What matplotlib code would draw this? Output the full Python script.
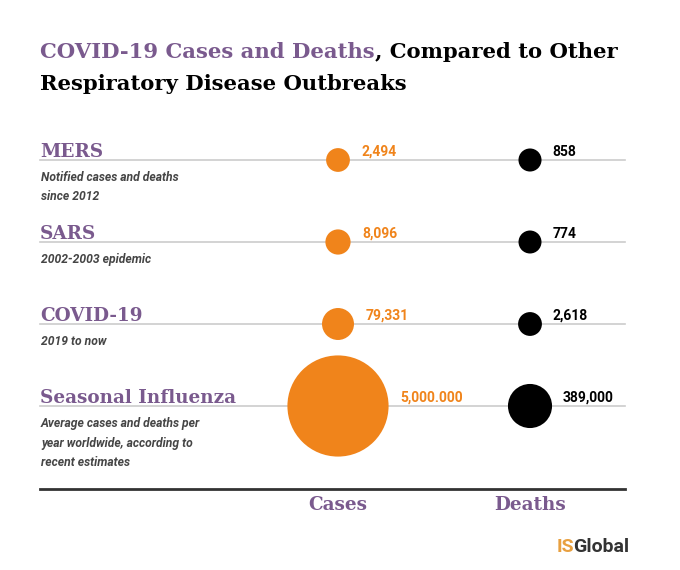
import numpy as np
import matplotlib
matplotlib.use("Agg")
from matplotlib import pyplot as plt
from matplotlib.patches import Circle

# data
diseases = ["MERS", "SARS", "COVID-19", "Seasonal Influenza"]
notes = [
    "Notified cases and deaths\nsince 2012",
    "2002-2003 epidemic",
    "2019 to now",
    "Average cases and deaths per\nyear worldwide, according to\nrecent estimates",
]
cases = [2494, 8096, 79331, 5000000]
deaths = [858, 774, 2618, 389000]
case_labels = ["2,494", "8,096", "79,331", "5,000.000"]
death_labels = ["858", "774", "2,618", "389,000"]
columns = ["Cases", "Deaths"]

PURPLE = "#7a5a8e"
ORANGE = "#f0841b"
SERIF = ["DejaVu Serif"]
SANS = ["Roboto", "DejaVu Sans"]

W, H = 680, 570
fig = plt.figure(figsize=(W / 100, H / 100), dpi=100)
ax = fig.add_axes([0, 0, 1, 1])
ax.set_xlim(0, W)
ax.set_ylim(H, 0)
ax.set_aspect("equal")
ax.axis("off")


def radius(v):
    # bubble radius in pixels, grows with sqrt of the value
    return 11 + 0.0177 * np.sqrt(v)


def right_edge(t):
    fig.canvas.draw()
    bb = t.get_window_extent()
    return ax.transData.inverted().transform((bb.x1, 0))[0]


# title
TS = 15.2
t1 = ax.text(40, 58, "COVID-19 Cases and Deaths", color=PURPLE, family=SERIF,
             fontsize=TS, fontweight="bold", va="baseline")
ax.text(right_edge(t1), 58, ", Compared to Other", color="black", family=SERIF,
        fontsize=TS, fontweight="bold", va="baseline")
ax.text(40, 90, "Respiratory Disease Outbreaks", color="black", family=SERIF,
        fontsize=TS, fontweight="bold", va="baseline")

x_cases, x_deaths = 338, 530
row_y = [160 + 82 * i for i in range(len(diseases))]

for i, name in enumerate(diseases):
    y = row_y[i]
    ax.plot([40, 625], [y, y], color="#cccccc", lw=1.2, zorder=1)
    ax.text(40, y - 3, name, color=PURPLE, family=SERIF, fontsize=13.2,
            fontweight="bold", va="baseline")
    ax.text(41, y + 11, notes[i], color="#454545", family=SANS, fontsize=8.7,
            fontstyle="italic", fontweight="bold", va="top", linespacing=1.65)

    rc = radius(cases[i])
    ax.add_patch(Circle((x_cases, y), rc, color=ORANGE, lw=0, zorder=2))
    ax.text(x_cases + rc + 12, y - 8, case_labels[i], color=ORANGE,
            family=SANS, fontsize=10, fontweight="bold", va="center")

    rd = radius(deaths[i])
    ax.add_patch(Circle((x_deaths, y), rd, color="black", lw=0, zorder=2))
    ax.text(x_deaths + rd + 11, y - 8, death_labels[i], color="black",
            family=SANS, fontsize=10, fontweight="bold", va="center")

# bottom axis line and column labels
ax.plot([40, 625], [489, 489], color="#333333", lw=2, zorder=1)
for x, lab in zip([x_cases, x_deaths], columns):
    ax.text(x, 510, lab, color=PURPLE, family=SERIF, fontsize=13.2,
            fontweight="bold", ha="center", va="baseline")

# logo
lg = ax.text(557, 552, "IS", color="#e8a040", family=SANS, fontsize=14,
             fontweight="bold", va="baseline")
ax.text(right_edge(lg) - 1, 552, "Global", color="#333333", family=SANS,
        fontsize=14, fontweight="bold", va="baseline")

fig.savefig("out.png", dpi=100, facecolor="white")
